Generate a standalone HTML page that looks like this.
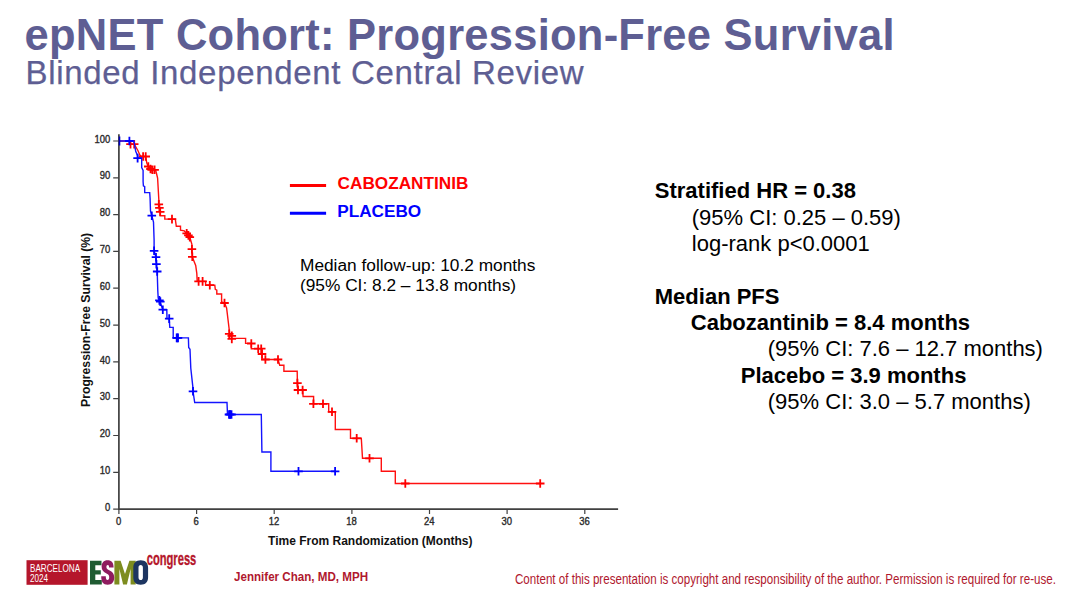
<!DOCTYPE html>
<html><head><meta charset="utf-8">
<style>
html,body{margin:0;padding:0;background:#fff;}
body{width:1080px;height:607px;position:relative;overflow:hidden;font-family:"Liberation Sans",sans-serif;}
.abs{position:absolute;white-space:nowrap;line-height:1;}
#title{left:24.6px;top:13.6px;font-size:43.5px;font-weight:bold;color:#5e5e93;letter-spacing:0.25px;}
#sub{left:25.5px;top:56.4px;font-size:33px;color:#5e5e93;letter-spacing:0.68px;-webkit-text-stroke:0.25px #5e5e93;}
.rt{font-size:22px;color:#000;}
.rt b{font-weight:bold;}
.lg{font-size:17.2px;font-weight:bold;}
.md{font-size:17.3px;color:#000;}
#chart{position:absolute;left:0;top:0;}
.ft{color:#b0182e;transform-origin:0 0;}
</style></head><body>
<div id="title" class="abs">epNET Cohort: Progression-Free Survival</div>
<div id="sub" class="abs">Blinded Independent Central Review</div>

<svg id="chart" width="1080" height="607" viewBox="0 0 1080 607">
<g stroke="#404040" stroke-width="1.7" fill="none">
<path d="M118.9,134.2V509.1H618.1"/>
</g>
<g stroke="#404040" stroke-width="1.2" fill="none">
<path d="M113.2,509.1H118.9M113.2,472.3H118.9M113.2,435.5H118.9M113.2,398.7H118.9M113.2,361.9H118.9M113.2,325.1H118.9M113.2,288.2H118.9M113.2,251.4H118.9M113.2,214.6H118.9M113.2,177.8H118.9M113.2,141.0H118.9M118.9,509.1V514M196.6,509.1V514M274.2,509.1V514M351.9,509.1V514M429.5,509.1V514M507.1,509.1V514M584.8,509.1V514"/>
</g>
<g font-family="Liberation Sans, sans-serif" font-size="10.2" font-weight="normal" fill="#2a2a2a" stroke="#2a2a2a" stroke-width="0.35">
<text transform="translate(110.3,510.7) scale(0.93,1)" text-anchor="end">0</text>
<text transform="translate(110.3,473.9) scale(0.93,1)" text-anchor="end">10</text>
<text transform="translate(110.3,437.1) scale(0.93,1)" text-anchor="end">20</text>
<text transform="translate(110.3,400.3) scale(0.93,1)" text-anchor="end">30</text>
<text transform="translate(110.3,363.5) scale(0.93,1)" text-anchor="end">40</text>
<text transform="translate(110.3,326.7) scale(0.93,1)" text-anchor="end">50</text>
<text transform="translate(110.3,289.8) scale(0.93,1)" text-anchor="end">60</text>
<text transform="translate(110.3,253.0) scale(0.93,1)" text-anchor="end">70</text>
<text transform="translate(110.3,216.2) scale(0.93,1)" text-anchor="end">80</text>
<text transform="translate(110.3,179.4) scale(0.93,1)" text-anchor="end">90</text>
<text transform="translate(110.3,142.6) scale(0.93,1)" text-anchor="end">100</text>
<text transform="translate(118.6,525) scale(0.93,1)" text-anchor="middle">0</text>
<text transform="translate(196.2,525) scale(0.93,1)" text-anchor="middle">6</text>
<text transform="translate(273.9,525) scale(0.93,1)" text-anchor="middle">12</text>
<text transform="translate(351.6,525) scale(0.93,1)" text-anchor="middle">18</text>
<text transform="translate(429.2,525) scale(0.93,1)" text-anchor="middle">24</text>
<text transform="translate(506.8,525) scale(0.93,1)" text-anchor="middle">30</text>
<text transform="translate(584.5,525) scale(0.93,1)" text-anchor="middle">36</text>
</g>
<text x="370.3" y="544.8" text-anchor="middle" font-family="Liberation Sans, sans-serif" font-size="12" font-weight="bold" fill="#111">Time From Randomization (Months)</text>
<text transform="translate(90.1,319.9) rotate(-90)" text-anchor="middle" font-family="Liberation Sans, sans-serif" font-size="12.2" font-weight="bold" fill="#111">Progression-Free Survival (%)</text>
<path d="M118.9,141 H128.5 L130.5,144.2 H134.2 L137.9,150.5 L139.8,155 L141,156.5 H145.7 L146.8,163.1 L148.3,166.5 L150.5,169 L152.4,169.8 H155.5 L156.5,173.5 L157.6,178 L158.9,201 L158.8,204.4 L159.4,207.9 L160.2,211.8 V215.7 H164.8 V219.1 H175.3 L176.3,226.3 H180.5 V230.1 L184.3,230.9 L186.7,233.4 L189.8,237.2 L191.9,244.4 L191.9,249.2 L192.3,256.8 L194,261.2 L195.7,265.4 L196.8,273.4 L197.2,281.4 H205.6 V285.2 H214.8 L215.3,289.4 L216.8,290.2 V294 H221.6 V302 L224.5,303 L226.6,307.9 L228.9,327 L229.7,333.8 L231.8,338.4 H245.6 V343.4 H251.3 V348.7 H262 V359.5 H278 L279.7,365.3 H283.9 V371.3 H297.2 L297.4,383.1 L298,390 H302.6 L303.1,396.5 H313.6 V403.8 H328.7 V411.8 H335.3 V429.5 H350.5 V438.3 H361.3 L362.5,458.3 H381.3 V471.2 H395.3 V483.5 H540.2" stroke="#ff1010" stroke-width="1.4" fill="none" stroke-linejoin="miter"/>
<path d="M126.2,144.2h8.6M130.5,139.9v8.6M129.9,144.2h8.6M134.2,139.9v8.6M138.8,156.5h8.6M143.1,152.2v8.6M141.4,156.5h8.6M145.7,152.2v8.6M144.0,166.5h8.6M148.3,162.2v8.6M146.2,169.0h8.6M150.5,164.7v8.6M148.1,169.8h8.6M152.4,165.5v8.6M150.3,169.8h8.6M154.6,165.5v8.6M154.5,204.4h8.6M158.8,200.1v8.6M155.1,207.9h8.6M159.4,203.6v8.6M155.9,211.8h8.6M160.2,207.5v8.6M167.7,219.1h8.6M172.0,214.8v8.6M182.4,233.4h8.6M186.7,229.1v8.6M184.1,235.4h8.6M188.4,231.1v8.6M185.5,237.2h8.6M189.8,232.9v8.6M187.6,249.2h8.6M191.9,244.9v8.6M188.0,256.8h8.6M192.3,252.5v8.6M194.3,281.4h8.6M198.6,277.1v8.6M198.3,281.4h8.6M202.6,277.1v8.6M205.5,285.2h8.6M209.8,280.9v8.6M220.2,303.0h8.6M224.5,298.7v8.6M224.9,333.8h8.6M229.2,329.5v8.6M227.5,335.9h8.6M231.8,331.6v8.6M227.5,338.9h8.6M231.8,334.6v8.6M247.0,343.5h8.6M251.3,339.2v8.6M253.9,348.7h8.6M258.2,344.4v8.6M256.9,348.7h8.6M261.2,344.4v8.6M257.7,354.0h8.6M262.0,349.7v8.6M261.1,359.5h8.6M265.4,355.2v8.6M273.7,359.5h8.6M278.0,355.2v8.6M293.1,383.1h8.6M297.4,378.8v8.6M293.7,390.0h8.6M298.0,385.7v8.6M298.3,390.0h8.6M302.6,385.7v8.6M309.1,403.8h8.6M313.4,399.5v8.6M318.7,403.8h8.6M323.0,399.5v8.6M327.7,411.8h8.6M332.0,407.5v8.6M352.4,438.3h8.6M356.7,434.0v8.6M365.2,458.3h8.6M369.5,454.0v8.6M401.0,483.5h8.6M405.3,479.2v8.6M535.9,483.5h8.6M540.2,479.2v8.6" stroke="#ff0000" stroke-width="1.8" fill="none"/>
<path d="M118.9,141 H133.9 L135,146.8 L135.7,151.3 L137.6,155.7 V158.1 H141.7 V167.6 L143.1,170.5 V181.7 L143.4,185.9 L144.7,186.7 V192.6 H149.7 L150.1,198.5 L150.5,211.1 L151.8,215.7 L153.5,222 L154.1,240 V250.8 L156,257.2 L156.4,264.2 L157.2,271.5 L157.8,291 L158.2,298 L159.7,300.9 L162.8,309.7 H166.8 L167,318.6 H169.2 L169.8,327.4 H173.2 V337.9 H188.4 L188.7,347.5 L190,349.2 L190.8,368.3 L193,388.3 V391.3 L194.7,402.5 H227 L227.5,414.5 H261.3 L261.9,452 H270.9 V471.3 H335.1" stroke="#1414ff" stroke-width="1.4" fill="none" stroke-linejoin="miter"/>
<path d="M125.1,141.0h8.6M129.4,136.7v8.6M133.3,158.1h8.6M137.6,153.8v8.6M147.5,215.7h8.6M151.8,211.4v8.6M149.8,250.8h8.6M154.1,246.5v8.6M151.7,257.2h8.6M156.0,252.9v8.6M152.1,264.2h8.6M156.4,259.9v8.6M152.9,271.5h8.6M157.2,267.2v8.6M155.1,300.4h8.6M159.4,296.1v8.6M156.0,301.6h8.6M160.3,297.3v8.6M158.5,309.7h8.6M162.8,305.4v8.6M164.9,318.6h8.6M169.2,314.3v8.6M173.1,337.9h8.6M177.4,333.6v8.6M188.7,391.3h8.6M193.0,387.0v8.6M225.7,414.5h8.6M230.0,410.2v8.6M294.2,471.3h8.6M298.5,467.0v8.6M330.8,471.3h8.6M335.1,467.0v8.6" stroke="#0000ff" stroke-width="1.8" fill="none"/>
<path d="M172.4,337.9h8.6M176.7,333.6v8.6M173.7,337.9h8.6M178.0,333.6v8.6M224.7,414.5h8.6M229.0,410.2v8.6M226.0,414.5h8.6M230.3,410.2v8.6M227.2,414.5h8.6M231.5,410.2v8.6" stroke="#0000ff" stroke-width="1.8" fill="none"/>
<path d="M119.5,136.5V145.5" stroke="#0000c0" stroke-width="1.6" fill="none"/>
<path d="M289.9,185.5H326.1" stroke="#ff0000" stroke-width="3"/>
<path d="M289.9,213.3H326.1" stroke="#0000ff" stroke-width="3"/>

<g id="logo">
<rect x="26.5" y="560.2" width="61.1" height="24.6" fill="#b5162b"/>
<g font-family="Liberation Sans, sans-serif" font-size="10.3" fill="#fff">
<text transform="translate(30,571.6) scale(0.79,1)">BARCELONA</text>
<text transform="translate(30,581.8) scale(0.79,1)">2024</text>
</g>
<!-- E -->
<path d="M90,560.7H101.5V565.2H95.3V570.2H100.8V574.6H95.3V579.9H101.8V584.4H90Z" fill="#1f5b32"/>
<!-- M -->
<path d="M114.4,560.7H120.6L125,574L129.4,560.7H135.7V584.4H130.6V569L126.9,584.4H123.1L119.4,569V584.4H114.4Z" fill="#7d8c1f"/>
<!-- S -->
<path d="M113.6,567.5C113.6,562.5 111.5,560.3 107.6,560.3C103.6,560.3 101.6,562.8 101.6,566.6C101.6,570.3 103.4,571.9 106.5,573.5C108.6,574.6 109.2,575.4 109.2,577.2C109.2,578.9 108.6,579.9 107.5,579.9C106.2,579.9 105.8,578.9 105.8,576.3H101.2C101.2,582 103.2,584.8 107.6,584.8C111.9,584.8 114.2,582.2 114.2,577.6C114.2,573.7 112.6,571.9 109.2,570.2C107,569.1 106.4,568.4 106.4,566.9C106.4,565.6 106.9,564.9 107.7,564.9C108.7,564.9 109.1,565.6 109.1,567.5Z" fill="#8f1c5f"/>
<!-- O -->
<path d="M140.7,560.3C136,560.3 133.3,563 133.3,567.8V577.3C133.3,582.1 136,584.8 140.7,584.8C145.4,584.8 148.1,582.1 148.1,577.3V567.8C148.1,563 145.4,560.3 140.7,560.3ZM140.7,565C142.1,565 142.9,565.9 142.9,567.8V577.3C142.9,579.2 142.1,580.1 140.7,580.1C139.3,580.1 138.5,579.2 138.5,577.3V567.8C138.5,565.9 139.3,565 140.7,565Z" fill="#1d3561" fill-rule="evenodd"/>
<text transform="translate(146.7,564.6) scale(0.725,1.17)" font-family="Liberation Sans, sans-serif" font-size="15.4" font-weight="bold" fill="#b5162b" stroke="#b5162b" stroke-width="0.3">congress</text>
</g>

</svg>

<div id="l1" class="abs lg" style="left:337.6px;top:175px;color:#ff0000;">CABOZANTINIB</div>
<div id="l2" class="abs lg" style="left:337.2px;top:203px;color:#0000ff;">PLACEBO</div>
<div id="m1" class="abs md" style="left:300px;top:257.3px;">Median follow-up: 10.2 months</div>
<div id="m2" class="abs md" style="left:300px;top:277.3px;">(95% CI: 8.2 – 13.8 months)</div>

<div id="r1" class="abs rt" style="left:654.8px;top:180.1px;"><b>Stratified HR = 0.38</b></div>
<div id="r2" class="abs rt" style="left:691.8px;top:206.9px;">(95% CI: 0.25 – 0.59)</div>
<div id="r3" class="abs rt" style="left:691.8px;top:233.2px;">log-rank p&lt;0.0001</div>
<div id="r4" class="abs rt" style="left:654.8px;top:285.8px;"><b>Median PFS</b></div>
<div id="r5" class="abs rt" style="left:690.8px;top:312.1px;"><b>Cabozantinib = 8.4 months</b></div>
<div id="r6" class="abs rt" style="left:767.8px;top:338.4px;">(95% CI: 7.6 – 12.7 months)</div>
<div id="r7" class="abs rt" style="left:740.8px;top:364.7px;"><b>Placebo = 3.9 months</b></div>
<div id="r8" class="abs rt" style="left:767.8px;top:391.0px;">(95% CI: 3.0 – 5.7 months)</div>

<div id="f1" class="abs ft" style="left:234px;top:570px;font-size:13.4px;font-weight:bold;transform:scaleX(0.866);">Jennifer Chan, MD, MPH</div>
<div id="f2" class="abs ft" style="left:514.6px;top:572px;font-size:14px;transform:scaleX(0.8275);">Content of this presentation is copyright and responsibility of the author. Permission is required for re-use.</div>
</body></html>
